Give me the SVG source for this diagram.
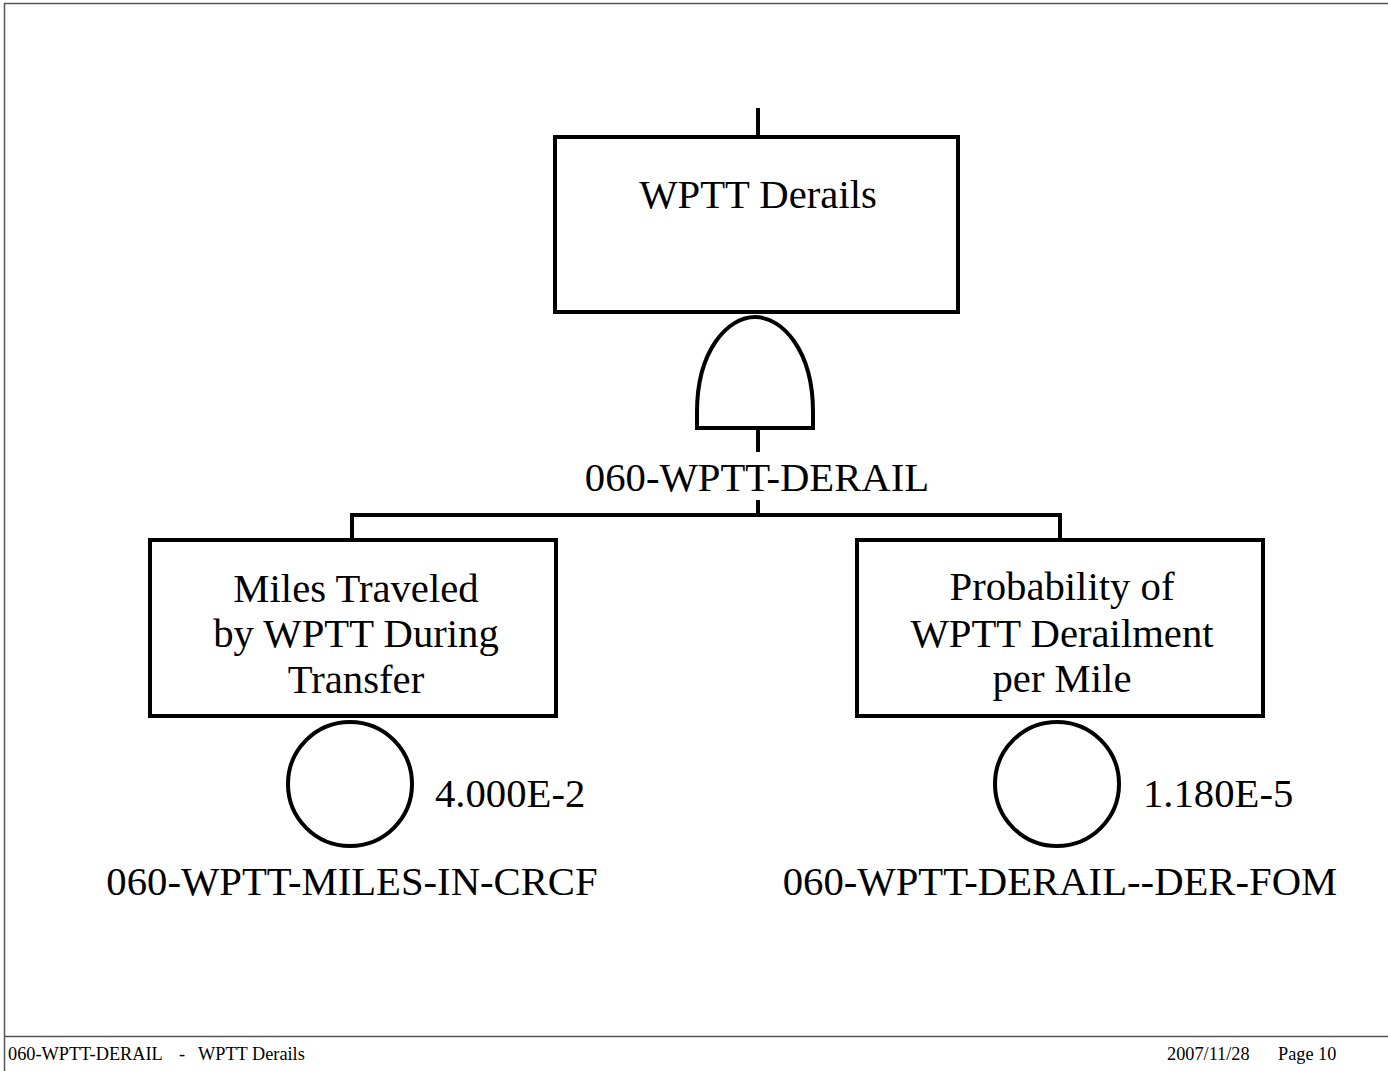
<svg xmlns="http://www.w3.org/2000/svg" width="1388" height="1071" viewBox="0 0 1388 1071">
<style>
.s{fill:none;stroke:#000;stroke-width:4;stroke-linejoin:miter}
.w{fill:#fff;stroke:#000;stroke-width:4}
.t{font-family:"Liberation Serif","Times New Roman",serif;font-size:40.7px;fill:#000}
.c{text-anchor:middle}
.f{font-family:"Liberation Serif","Times New Roman",serif;font-size:18.3px;fill:#000}
.fr{fill:none;stroke:#555;stroke-width:1.5}
</style>
<rect width="1388" height="1071" fill="#fff"/>
<g id="frame">
<path class="fr" d="M1388,3.5 H4.5 V1071 M4.5,1036.5 H1388"/>
<text class="f" x="8" y="1060">060-WPTT-DERAIL</text>
<text class="f" x="179" y="1060">-</text>
<text class="f" x="198" y="1060">WPTT Derails</text>
<text class="f" x="1167" y="1060">2007/11/28</text>
<text class="f" x="1278" y="1060">Page 10</text>
</g>
<g id="connectors">
<path class="s" d="M758,108 V137"/>
<path class="s" d="M758,428 V452"/>
<path class="s" d="M758,500 V515 M352,540 V515 H1060 V540"/>
</g>
<g id="top-event">
<rect class="w" x="555" y="137" width="403" height="175"/>
<text class="t c" x="758" y="208">WPTT Derails</text>
</g>
<g id="and-gate">
<path class="w" d="M697,428 L697,412 C697,350 728,317 755,317 C782,317 813,350 813,412 L813,428 Z"/>
<text class="t c" x="757" y="491">060-WPTT-DERAIL</text>
</g>
<g id="left-event">
<rect class="w" x="150" y="540" width="406" height="176"/>
<text class="t c" x="356" y="602">Miles Traveled</text>
<text class="t c" x="356" y="647">by WPTT During</text>
<text class="t c" x="356" y="693">Transfer</text>
</g>
<g id="left-basic">
<circle class="w" cx="350" cy="784" r="62"/>
<text class="t" x="435" y="807">4.000E-2</text>
<text class="t c" x="352" y="895">060-WPTT-MILES-IN-CRCF</text>
</g>
<g id="right-event">
<rect class="w" x="857" y="540" width="406" height="176"/>
<text class="t c" x="1062" y="600">Probability of</text>
<text class="t c" x="1062" y="647">WPTT Derailment</text>
<text class="t c" x="1062" y="692">per Mile</text>
</g>
<g id="right-basic">
<circle class="w" cx="1057" cy="784" r="62"/>
<text class="t" x="1143" y="807">1.180E-5</text>
<text class="t c" x="1060" y="895">060-WPTT-DERAIL--DER-FOM</text>
</g>
</svg>
